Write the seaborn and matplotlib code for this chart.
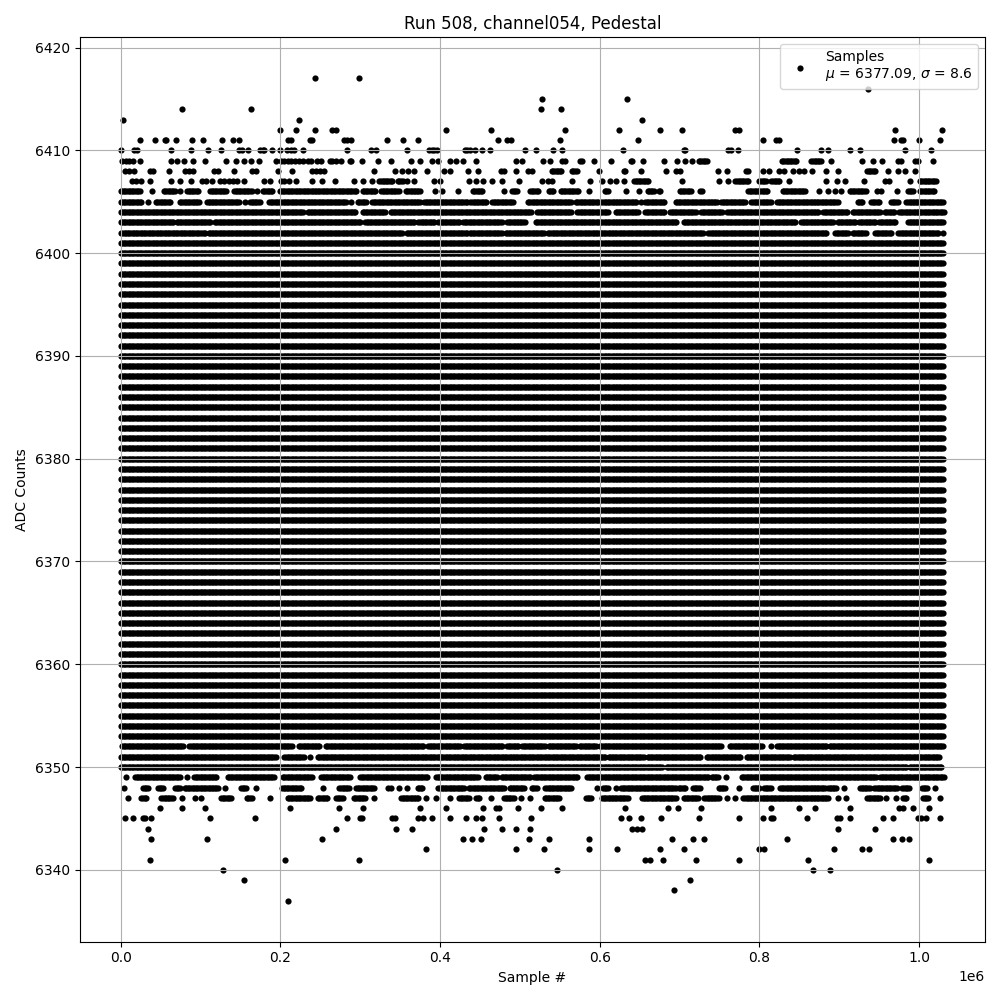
import numpy as np
import pandas as pd
import matplotlib
matplotlib.use("Agg")
import matplotlib.pyplot as plt
import seaborn as sns

# sample positions in thousands of samples; (a, b) = run of consecutive hits
n_samples_k = 1030
dense_levels = list(range(6353, 6402))   # levels hit all along the run

lvl_6417 = [243, 298]
lvl_6416 = [936]
lvl_6415 = [528, 634]
lvl_6414 = [77, 163, 526, 552]
lvl_6413 = [3, 223, 653]
lvl_6412 = [199, 219, 244, 265, 270, 407, 464, 557, 624, 675, 703, 770, 775, 970, 1029]
lvl_6411 = [24, 43, 55, 57, 69, 89, 103, 127, 141, 148, 209, 213, 237, 240, 280, 284, 289,
            334, 353, 373, 472, 484, 489, 550, 648, 805, 821, 824, 969, 977, 980, 1000, 1026]
lvl_6410 = [0, 17, 20, 63, 88, 109, 126, 148, 152, 160, 174, 178, 180, 189, 199, 208, 213,
            217, 228, 284, 314, 320, 358, 386, 390, 393, 396, 431, 434, 437, 444, 453, 463,
            506, 520, 542, 553, 629, 705, 707, 761, 765, 773, 847, 877, 886, 913, 926, 982, 1015]
lvl_6409 = [2, 7, 11, 16, 24, 63, 70, 79, 90, 105, 132, 144, 154, 163, 173, 195, 201, 205,
            209, 213, 218, 223, 228, 235, 238, 246, 251, 262, 265, 270, 276, 287, 289, 302,
            322, 339, 363, 375, 390, 397, 413, 420, 429, 445, 495, 503, 529, 538, 553, 556,
            575, 578, 593, 614, 639, 641, 654, 680, 697, 707, 715, (724, 735), (828, 847),
            (865, 878), 890, 929, 942, 954, 974, 977, 995, 999, 1018]
lvl_6408 = [5, 10, 17, 37, 40, 60, 80, 86, 90, 117, 122, 142, 165, 170, 197, 215, 239, 245,
            250, 255, 317, 344, 352, 360, 368, 384, 405, 413, 435, 448, 476, 480, 495, 510,
            515, (540, 552), (565, 572), 599, 630, 632, 652, 683, 695, 700, 748, 759, 783, 786,
            805, 812, 825, 831, 842, 849, 856, 866, 883, 898, (935, 945), 961, 973, 982, 995]
lvl_6407 = [14, 19, 25, 37, 63, 74, 88, 102, 107, 114, 125, 130, 136, 141, 146, 154, 179,
            187, 201, 205, 211, 219, 240, 252, 269, 292, 303, 315, (324, 340), (347, 353),
            359, 368, 392, 400, 436, 445, 454, 465, 477, 499, 528, 535, 540, 565, 588, 603,
            613, 620, 630, (643, 662), 703, 749, 761, (770, 787), (800, 809), (815, 825), 837,
            883, 897, 907, 931, 957, 962, 989, (1001, 1021)]
lvl_6406 = [(0, 24), 39, (54, 68), 74, (83, 97), (112, 133), (142, 165), 171, (178, 190),
            (199, 295), (303, 320), (326, 349), (357, 376), 394, 403, 422, (441, 454), 480,
            (490, 497), (513, 523), (536, 543), (551, 574), 586, (606, 611), 633, 649,
            (660, 668), (674, 676), (700, 714), (726, 728), (786, 811), (829, 858), 875, 886,
            895, 902, (913, 934), 947, 952, 972, (986, 993), (1001, 1020)]
lvl_6405 = [(0, 27), 34, (44, 62), (74, 99), (108, 149), 156, (162, 174), (186, 282), 288,
            (297, 307), (315, 376), (380, 434), (438, 459), (465, 492), (510, 565), (570, 599),
            (602, 647), 652, (657, 681), (695, 747), (752, 782), (790, 815), (822, 899),
            (923, 930), (940, 951), (965, 974), (984, 1030)]
lvl_6404 = [(0, 228), (234, 295), (303, 332), (338, 515), (522, 565), (572, 611), (620, 649),
            (657, 682), (688, 720), (727, 753), (760, 874), (880, 911), (917, 951), (957, 970),
            (975, 1031)]
lvl_6403 = [(0, 66), (70, 113), (118, 300), (306, 368), (373, 393), (398, 424), (429, 478),
            (484, 507), (520, 697), (705, 845), (852, 893), (898, 920), (925, 945), (950, 970),
            (986, 1030)]
lvl_6402 = [(1, 99), (102, 107), (110, 353), (358, 434), (437, 478), (482, 530), (535, 730),
            (736, 884), (895, 911), (917, 934), (945, 965), (974, 1024), 1030]

lvl_6352 = [(2, 78), (86, 215), (223, 249), (257, 380), (385, 426), (430, 479), (484, 499),
            (503, 532), (536, 570), (575, 595), (600, 753), (763, 803), 814, (822, 884),
            (888, 1030)]
lvl_6351 = [(0, 195), (205, 229), 237, (247, 607), (611, 655), (660, 726), (734, 776),
            (784, 838), (843, 1026)]
lvl_6350 = [(0, 678), (684, 984), (988, 1028)]
lvl_6349 = [7, (18, 74), 83, (92, 120), (134, 193), (203, 240), (251, 288), (300, 384),
            (395, 447), (457, 472), (477, 513), (518, 572), (584, 736), (740, 749), 758,
            (778, 947), (951, 1032)]
lvl_6348 = [4, (28, 34), (47, 53), (68, 74), (80, 122), 131, (151, 157), 169, (202, 227), 253,
            (274, 286), (295, 318), 335, 339, 348, 359, (372, 378), (398, 430), (436, 480),
            (487, 505), (515, 522), (532, 565), 597, (604, 611), 620, (627, 695), (699, 707),
            (717, 726), (749, 757), 774, (792, 801), (806, 815), (826, 882), (886, 897), 906,
            (926, 938), (944, 972), (979, 988), (1004, 1010), 1020]
lvl_6347 = [9, (26, 32), (51, 65), 77, 93, 101, (126, 138), (158, 165), 187, (209, 238),
            (247, 260), (270, 278), (292, 307), 317, (351, 374), 383, 395, 412, (424, 436),
            (445, 450), 464, (480, 492), 502, 513, (531, 550), (583, 590), (603, 636),
            (653, 695), (705, 724), (731, 749), 759, 770, (780, 886), 899, 908, (935, 951),
            959, 971, (980, 984), (1005, 1011), 1026]
lvl_6346 = [49, 77, 105, 212, 273, 304, 375, 408, 454, 470, 474, 498, 527, 553, 632, 685,
            698, 727, 814, 849, 869, 914, 975, 980, 992, 1012]
lvl_6345 = [5, 16, 28, 31, 38, 112, 168, 283, 300, 302, 340, 344, 372, 379, 390, 412, 433,
            445, 452, 474, 514, 627, 637, 652, 677, 724, 775, 804, 814, 817, 860, 897, 901,
            913, 955, 967, 999, 1003, 1009, 1026]
lvl_6344 = [34, 270, 345, 365, 455, 477, 495, 513, 640, 647, 653, 899, 945]
lvl_6343 = [38, 108, 252, 429, 440, 451, 512, 537, 587, 690, 717, 731, 834, 967, 979, 987]
lvl_6342 = [383, 495, 530, 586, 622, 676, 705, 800, 806, 894, 928, 937]
lvl_6341 = [37, 206, 299, 657, 663, 679, 720, 775, 861, 1013]
lvl_6340 = [128, 547, 867, 888]
lvl_6339 = [155, 713]
lvl_6338 = [693]
lvl_6337 = [209]

mu_text = "6377.09"
sigma_text = "8.6"
run_title = "Run 508, channel054, Pedestal"

levels = {
    6417: lvl_6417, 6416: lvl_6416, 6415: lvl_6415, 6414: lvl_6414, 6413: lvl_6413,
    6412: lvl_6412, 6411: lvl_6411, 6410: lvl_6410, 6409: lvl_6409, 6408: lvl_6408,
    6407: lvl_6407, 6406: lvl_6406, 6405: lvl_6405, 6404: lvl_6404, 6403: lvl_6403,
    6402: lvl_6402, 6352: lvl_6352, 6351: lvl_6351, 6350: lvl_6350, 6349: lvl_6349,
    6348: lvl_6348, 6347: lvl_6347, 6346: lvl_6346, 6345: lvl_6345, 6344: lvl_6344,
    6343: lvl_6343, 6342: lvl_6342, 6341: lvl_6341, 6340: lvl_6340, 6339: lvl_6339,
    6338: lvl_6338, 6337: lvl_6337,
}
for lv in dense_levels:
    levels[lv] = [(0, n_samples_k)]


def expand(items, step=2.0):
    xs = []
    for it in items:
        if isinstance(it, tuple):
            xs.extend(np.arange(it[0], it[1] + 0.01, step))
        else:
            xs.append(it)
    return np.array(xs, dtype=float) * 1000


frames = []
for lv, items in levels.items():
    x = expand(items)
    frames.append(pd.DataFrame({"sample": x, "adc": lv}))
df = pd.concat(frames, ignore_index=True)

fig, ax = plt.subplots(figsize=(10, 10), dpi=100)
sns.scatterplot(data=df, x="sample", y="adc", color="k", marker="o", s=20,
                linewidth=0, ax=ax,
                label="Samples\n$\\mu$ = " + mu_text + ", $\\sigma$ = " + sigma_text)
ax.set_title(run_title)
ax.set_xlabel("Sample #")
ax.set_ylabel("ADC Counts")
ax.grid(True)
ax.legend(loc="upper right")
plt.tight_layout()
plt.savefig("out.png")
